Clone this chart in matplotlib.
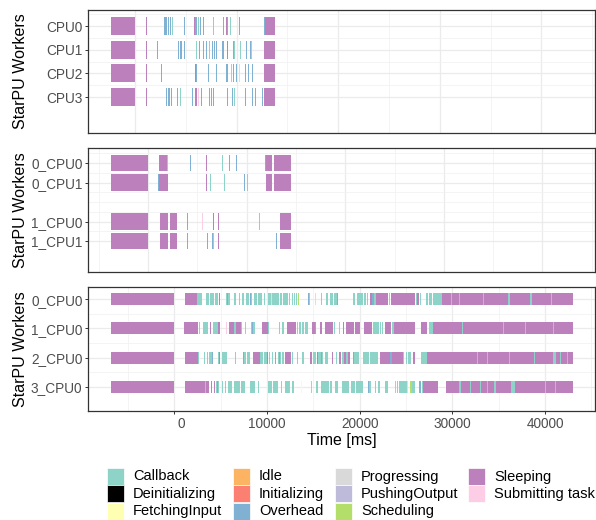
import matplotlib
matplotlib.use("Agg")
import matplotlib.pyplot as plt
from matplotlib.patches import Rectangle

plt.rcParams['font.family'] = ['Liberation Sans', 'DejaVu Sans']

# states and colours (legend order)
states = ["Callback", "Deinitializing", "FetchingInput", "Idle", "Initializing",
          "Overhead", "Progressing", "PushingOutput", "Scheduling", "Sleeping",
          "Submitting task"]
state_colors = ["#8DD3C7", "#000000", "#FFFFB3", "#FDB462", "#FB8072",
                "#80B1D3", "#D9D9D9", "#BEBADA", "#B3DE69", "#BC80BD", "#FCCDE5"]
short = {"C": "Callback", "O": "Overhead", "S": "Sleeping", "Sub": "Submitting task",
         "Sch": "Scheduling", "F": "FetchingInput", "P": "PushingOutput"}
color_of = dict(zip(states, state_colors))

# ---- panel 1 : single node, 4 workers (start ms, end ms, state)
workers1 = ["CPU0", "CPU1", "CPU2", "CPU3"]
events1 = {
    "CPU0": [(-2360, 0, "S"), (1080, 1180, "S"), (2850, 3150, "O"), (3250, 3350, "O"),
             (3480, 3580, "O"), (3640, 3740, "C"), (4820, 4920, "O"), (5800, 5940, "S"),
             (5940, 6070, "O"), (6170, 6330, "C"), (6430, 6530, "O"), (6690, 6790, "O"),
             (7680, 7780, "C"), (8660, 8760, "O"), (8960, 9080, "S"), (9080, 9180, "O"),
             (9350, 9450, "C"), (10230, 10330, "O"), (12700, 12830, "O"), (12830, 13780, "S")],
    "CPU1": [(-2360, 0, "S"), (1080, 1180, "S"), (2170, 2270, "O"), (4230, 4330, "O"),
             (4400, 4500, "O"), (4540, 4640, "O"), (4820, 4920, "O"), (6000, 6100, "C"),
             (6330, 6430, "O"), (6660, 6760, "O"), (6990, 7090, "O"), (7280, 7380, "C"),
             (7580, 7680, "O"), (7780, 7880, "O"), (7970, 8070, "O"), (8560, 8660, "O"),
             (8700, 8800, "O"), (9020, 9150, "S"), (9640, 9780, "O"), (9780, 9870, "C"),
             (10330, 10430, "C"), (10920, 11020, "O"), (11350, 11450, "O"),
             (11450, 11550, "Sch"), (12700, 13780, "S")],
    "CPU2": [(-2360, 0, "S"), (1080, 1180, "S"), (2530, 2630, "O"), (5900, 6000, "S"),
             (6000, 6100, "O"), (7180, 7280, "O"), (7970, 8070, "O"), (8960, 9150, "O"),
             (9450, 9550, "Sch"), (9640, 9740, "O"), (9940, 10040, "O"), (10230, 10330, "Sub"),
             (10820, 10920, "O"), (11150, 11250, "O"), (11510, 11610, "O"), (12700, 13780, "S")],
    "CPU3": [(-2360, 0, "S"), (1080, 1180, "S"), (3050, 3150, "O"), (3200, 3300, "O"),
             (3380, 3480, "O"), (3540, 3670, "O"), (4130, 4230, "O"), (4460, 4560, "C"),
             (5580, 5680, "O"), (5900, 6130, "S"), (6170, 6300, "Sub"), (6500, 6590, "O"),
             (7280, 7380, "O"), (7480, 7580, "O"), (7680, 7780, "O"), (9050, 9150, "O"),
             (9540, 9640, "O"), (9740, 9840, "C"), (10820, 10920, "O"), (11510, 11610, "O"),
             (11840, 11940, "O"), (12500, 12600, "O"), (12700, 13780, "S")],
}

# ---- panel 2 : two nodes, 2 workers each
workers2 = ["0_CPU0", "0_CPU1", "1_CPU0", "1_CPU1"]
rows2 = [0, 1, 3, 4]
events2 = {
    "0_CPU0": [(-3750, 0, "S"), (1080, 1890, "S"), (1890, 1990, "C"), (4260, 4360, "O"),
               (5880, 5980, "S"), (7500, 7600, "C"), (8210, 8310, "O"), (8920, 9020, "O"),
               (11860, 11960, "O"), (11960, 12600, "S"), (12780, 14500, "S")],
    "0_CPU1": [(-3750, 0, "S"), (980, 1080, "O"), (1080, 1990, "S"), (5880, 5980, "S"),
               (6290, 6390, "C"), (7710, 7810, "C"), (9730, 9830, "O"), (10040, 10140, "C"),
               (11960, 12600, "S"), (12780, 14500, "S")],
    "1_CPU0": [(-3750, 0, "S"), (1220, 2060, "S"), (2200, 2910, "S"), (3950, 4060, "O"),
               (5480, 5580, "Sub"), (6590, 6690, "S"), (7070, 7170, "S"), (11260, 11360, "C"),
               (13380, 14500, "S")],
    "1_CPU1": [(-3750, 0, "S"), (1220, 2060, "S"), (2200, 2910, "S"), (3950, 4060, "O"),
               (5980, 6080, "O"), (6460, 6560, "O"), (6560, 6660, "P"), (7070, 7170, "S"),
               (12980, 13080, "O"), (13380, 14500, "S")],
}

# ---- panel 3 : four nodes, 1 worker each
workers3 = ["0_CPU0", "1_CPU0", "2_CPU0", "3_CPU0"]
events3 = {
    "0_CPU0": [(-6870, 0, "S"), (1155, 2414, "S"), (2414, 3025, "C"), (3420, 3780, "C"),
               (3888, 4248, "C"), (4392, 4680, "C"), (4787, 4895, "S"), (5578, 5722, "C"),
               (5722, 5830, "O"), (5830, 6046, "C"), (6406, 6658, "C"), (6982, 7126, "C"),
               (7342, 7558, "C"), (7702, 8061, "C"), (8169, 8277, "O"), (8277, 8420, "C"),
               (8600, 8890, "C"), (9068, 9500, "C"), (9644, 9824, "C"), (10075, 10400, "C"),
               (10400, 10540, "Sub"), (10540, 11260, "C"), (11440, 11585, "C"), (11730, 12305, "C"),
               (12410, 12530, "C"), (12660, 12770, "C"), (12880, 12990, "C"), (13100, 13240, "C"),
               (13350, 13460, "Sch"), (14428, 14540, "O"), (14540, 14643, "C"),
               (15183, 15290, "Sub"), (15795, 15975, "C"), (16370, 16620, "C"), (16800, 17090, "C"),
               (17233, 17557, "C"), (17557, 17700, "O"), (19320, 19500, "C"), (19715, 20398, "C"),
               (20506, 20650, "C"), (20830, 20940, "C"), (21118, 21370, "S"), (21370, 21510, "O"),
               (21510, 21765, "C"), (21765, 23097, "S"), (23130, 23310, "C"), (23383, 25975, "S"),
               (26047, 26155, "C"), (26165, 26450, "S"), (26525, 26630, "C"), (27135, 27350, "C"),
               (27480, 27780, "C"), (27930, 28865, "C"), (28865, 43010, "S"),
               (29870, 29980, "C"), (30735, 30845, "C"), (33290, 33400, "C"),
               (36030, 36170, "C"), (38400, 38580, "C"), (40670, 40780, "C")],
    "1_CPU0": [(-6870, 0, "S"), (1046, 2594, "S"), (2666, 2810, "C"), (3097, 3400, "C"),
               (3450, 3672, "C"), (3816, 3924, "S"), (4140, 4680, "C"), (4752, 4895, "S"),
               (5543, 5651, "Sub"), (5902, 6478, "S"), (6478, 6622, "C"), (6622, 7198, "S"),
               (7198, 7342, "C"), (7630, 7737, "P"), (8277, 8380, "C"), (8380, 8490, "O"),
               (8490, 8708, "C"), (9500, 10147, "S"), (10147, 10255, "C"), (11298, 11442, "C"),
               (11658, 11802, "C"), (12161, 13132, "S"), (13240, 13385, "C"), (13492, 13636, "C"),
               (13744, 14030, "C"), (14100, 14463, "C"), (14823, 15183, "S"), (15183, 15290, "O"),
               (15759, 15975, "S"), (16262, 17125, "S"), (17269, 17377, "C"), (17772, 17916, "P"),
               (18168, 18348, "S"), (18492, 19392, "S"), (19500, 20075, "S"), (20470, 21298, "S"),
               (21442, 22089, "C"), (22160, 22270, "C"), (22380, 22480, "C"), (22590, 22670, "C"),
               (22737, 23383, "S"), (23455, 23671, "C"), (23671, 25975, "S"), (26585, 27245, "S"),
               (27500, 27890, "C"), (27890, 43010, "S"),
               (31025, 31130, "C"), (35450, 35560, "C"), (37790, 37900, "C"), (40850, 40960, "C")],
    "2_CPU0": [(-6870, 0, "S"), (1155, 2522, "S"), (2522, 2630, "C"), (3204, 3312, "C"),
               (3492, 3672, "C"), (3744, 4070, "C"), (4070, 4212, "O"), (4680, 4787, "C"),
               (4787, 4931, "S"), (5111, 5651, "C"), (6550, 6658, "C"), (7378, 7522, "O"),
               (7522, 7702, "C"), (7810, 8169, "C"), (8492, 9248, "S"), (9248, 9540, "C"),
               (9540, 9608, "O"), (9644, 9968, "C"), (9968, 10075, "S"), (10183, 10327, "C"),
               (10507, 10651, "C"), (10831, 10975, "O"), (11155, 11330, "C"), (11330, 11440, "O"),
               (11440, 11514, "C"), (11586, 11802, "C"), (11945, 12593, "S"), (12665, 12845, "C"),
               (13205, 13385, "C"), (13816, 13960, "C"), (14643, 14823, "S"), (14930, 15290, "C"),
               (15399, 15543, "S"), (15543, 15800, "C"), (15800, 15900, "O"), (15900, 16082, "C"),
               (16226, 16620, "C"), (16980, 17089, "S"), (17485, 17593, "C"), (17772, 17952, "S"),
               (18130, 18310, "C"), (18350, 18490, "S"), (18490, 18780, "C"), (18780, 18960, "S"),
               (19320, 19428, "O"), (19428, 19900, "C"), (20362, 21000, "C"), (21080, 21500, "C"),
               (21580, 22017, "C"), (22161, 23275, "S"), (23275, 23455, "O"), (23455, 24643, "S"),
               (24643, 24823, "C"), (24967, 25111, "C"), (25255, 25543, "C"), (25795, 25975, "S"),
               (26620, 27245, "C"), (27245, 43010, "S"),
               (29585, 29690, "C"), (32645, 32750, "C"), (33725, 33830, "C"), (36065, 36170, "C"),
               (38765, 38870, "C"), (40850, 41210, "C"), (41570, 41675, "C"), (42365, 42470, "C")],
    "3_CPU0": [(-6870, 0, "S"), (1155, 3312, "S"), (3312, 3420, "C"), (3420, 3780, "S"),
               (3924, 4032, "S"), (4284, 4392, "S"), (4500, 4570, "C"), (4570, 4680, "O"),
               (4752, 4860, "C"), (5111, 5219, "C"), (5471, 5579, "C"), (5759, 6190, "C"),
               (6478, 7090, "C"), (7198, 7630, "C"), (8205, 8349, "C"), (8421, 8708, "C"),
               (9032, 9140, "C"), (10111, 10507, "C"), (10615, 11226, "C"), (11514, 11658, "C"),
               (11945, 12413, "C"), (12413, 12520, "P"), (12737, 12917, "C"), (13672, 13780, "F"),
               (14751, 14859, "Sch"), (15255, 15543, "C"), (15795, 16694, "C"), (16800, 16980, "C"),
               (17377, 17700, "C"), (18060, 18852, "C"), (19068, 19500, "C"), (19608, 20398, "C"),
               (20866, 21010, "O"), (21010, 21190, "C"), (21658, 21802, "C"), (21946, 22233, "C"),
               (22737, 23097, "C"), (23815, 23923, "Sch"), (23995, 24175, "C"), (24247, 25075, "C"),
               (25075, 25200, "Sub"), (25471, 25615, "Sch"), (25687, 25975, "C"),
               (26443, 26620, "O"), (26692, 26872, "C"), (26885, 28430, "S"), (29300, 30665, "S"),
               (30665, 30955, "C"), (30955, 34445, "S"), (34445, 34730, "C"), (34730, 36350, "S"),
               (36350, 36785, "C"), (36785, 43010, "S"), (31925, 32030, "C"), (33005, 33110, "C"),
               (33725, 33830, "C"), (40025, 40130, "C"), (41030, 41135, "C")],
}

W, H = 596, 520
fig = plt.figure(figsize=(W / 100, H / 100), dpi=100)
fig.patch.set_facecolor("white")

GRID = "#EBEBEB"
TICKC = "#4D4D4D"
FRAME = "#333333"


def panel(top, bottom, workers, rows, events, bar_h, xlim, ylim, xmajor, xminor, yminor):
    ax = fig.add_axes([88 / W, 1 - bottom / H, (595 - 88) / W, (bottom - top) / H])
    ax.set_axisbelow(True)
    for w, r in zip(workers, rows):
        for s, e, st in events[w]:
            ax.barh(r, e - s, left=s, height=bar_h, color=color_of[short[st]], linewidth=0)
    ax.set_xlim(*xlim)
    ax.set_ylim(*ylim)
    ax.set_xticks(xmajor)
    ax.set_xticks(xminor, minor=True)
    ax.set_yticks(rows, workers)
    ax.set_yticks(yminor, minor=True)
    ax.grid(True, which="major", color=GRID, linewidth=0.9)
    ax.grid(True, which="minor", color="#F2F2F2", linewidth=0.6)
    ax.tick_params(which="minor", length=0)
    ax.tick_params(which="major", length=2.5, width=0.7, color=FRAME, pad=1.5,
                   labelsize=9.8, labelcolor=TICKC)
    for sp in ax.spines.values():
        sp.set_color(FRAME)
        sp.set_linewidth(0.9)
    ax.set_ylabel("StarPU Workers", fontsize=11.5)
    ax.yaxis.set_label_coords(-0.118, 0.5)
    return ax


ax1 = panel(10, 133, workers1, [0, 1, 2, 3], events1, 0.76, (-4630, 45280), (4.52, -0.68),
            range(0, 45001, 10000), range(5000, 45001, 10000), [-0.5, 0.5, 1.5, 2.5])
ax1.tick_params(axis="x", bottom=False, labelbottom=False)

ax2 = panel(148, 272, workers2, rows2, events2, 0.85, (-6085, 45330), (5.59, -0.77),
            range(0, 45001, 10000), range(-5000, 45001, 10000), [-0.5, 0.5, 1.5, 2, 2.5, 3.5])
ax2.tick_params(axis="x", bottom=False, labelbottom=False)

ax3 = panel(287, 411, workers3, [0, 1, 2, 3], events3, 0.41, (-9310, 45390), (3.82, -0.41),
            range(0, 40001, 10000), range(-5000, 45001, 10000), [0.5, 1.5, 2.5])
ax3.set_xticklabels(["    0", "10000", "20000", "30000", "40000"])
ax3.set_xlabel("Time [ms]", fontsize=11.5, labelpad=2)

# legend, 4 columns filled top-down
key_x = [107, 233, 335, 468]
row_y = [468, 485.3, 502.6]
key_w, key_h = 16.5, 17
for i, (name, col) in enumerate(zip(states, state_colors)):
    c, r = divmod(i, 3)
    x, y = key_x[c], row_y[r]
    fig.add_artist(Rectangle((x / W, 1 - (y + key_h) / H), key_w / W, key_h / H,
                             transform=fig.transFigure, facecolor=col, edgecolor="white",
                             linewidth=0.5))
    fig.text((x + 26) / W, 1 - (y + key_h / 2) / H, name, fontsize=10.5, va="center", ha="left")

fig.savefig("out.png", dpi=100, facecolor="white")
